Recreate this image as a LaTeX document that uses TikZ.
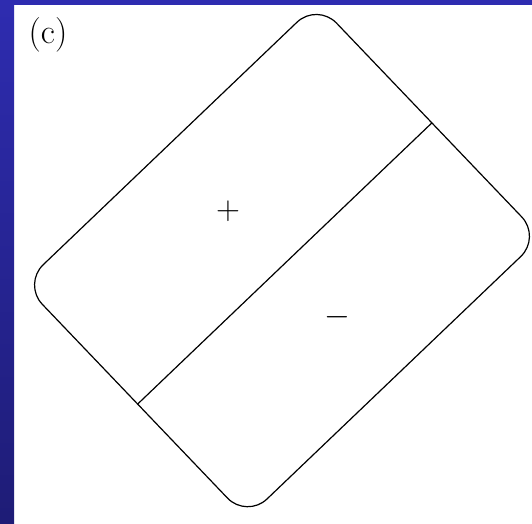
\documentclass[tikz,border=0pt]{standalone}
\usepackage{tikz}
\usetikzlibrary{positioning}
\definecolor{slidetop}{RGB}{46,44,176}
\definecolor{slidebot}{RGB}{30,28,118}
\tikzstyle{outline}   = [line width=0.9pt, rounded corners=21pt]
\tikzstyle{divider}   = [line width=0.9pt]
\tikzstyle{signlabel} = [inner sep=0pt, font=\fontsize{26}{30}\selectfont]
\tikzstyle{panellabel} = [inner sep=0pt, font=\fontsize{26}{30}\selectfont]
\begin{document}
\begin{tikzpicture}[x=0.75pt, y=0.75pt]

        % Pozadi
        \useasboundingbox (0,0) rectangle (532,524);
        \fill[white] (0,0) rectangle (532,524);
        \shade[top color=slidetop, bottom color=slidebot] (0,0) rectangle (14,524);
        \fill[slidetop] (0,519) rectangle (532,524);

        % Popisek
        \node[panellabel] (lab) at (48,489) {(c)};

        % Obdelnik
        \begin{scope}[shift={(282,263.4)}, rotate=43.7]
            \draw[outline] (-203.5,-162) rectangle (203.5,162);
            \coordinate (divl) at (-203.5,-4);
            \coordinate (divr) at (203.5,-4);
        \end{scope}

        % Delici cara
        \draw[divider] (divl) -- (divr);

        % Znamenka
        \node[signlabel] (plus) at (228,313) {$+$};
        \node[signlabel] (minus) at (337,207) {$-$};

    \end{tikzpicture}
\end{document}
